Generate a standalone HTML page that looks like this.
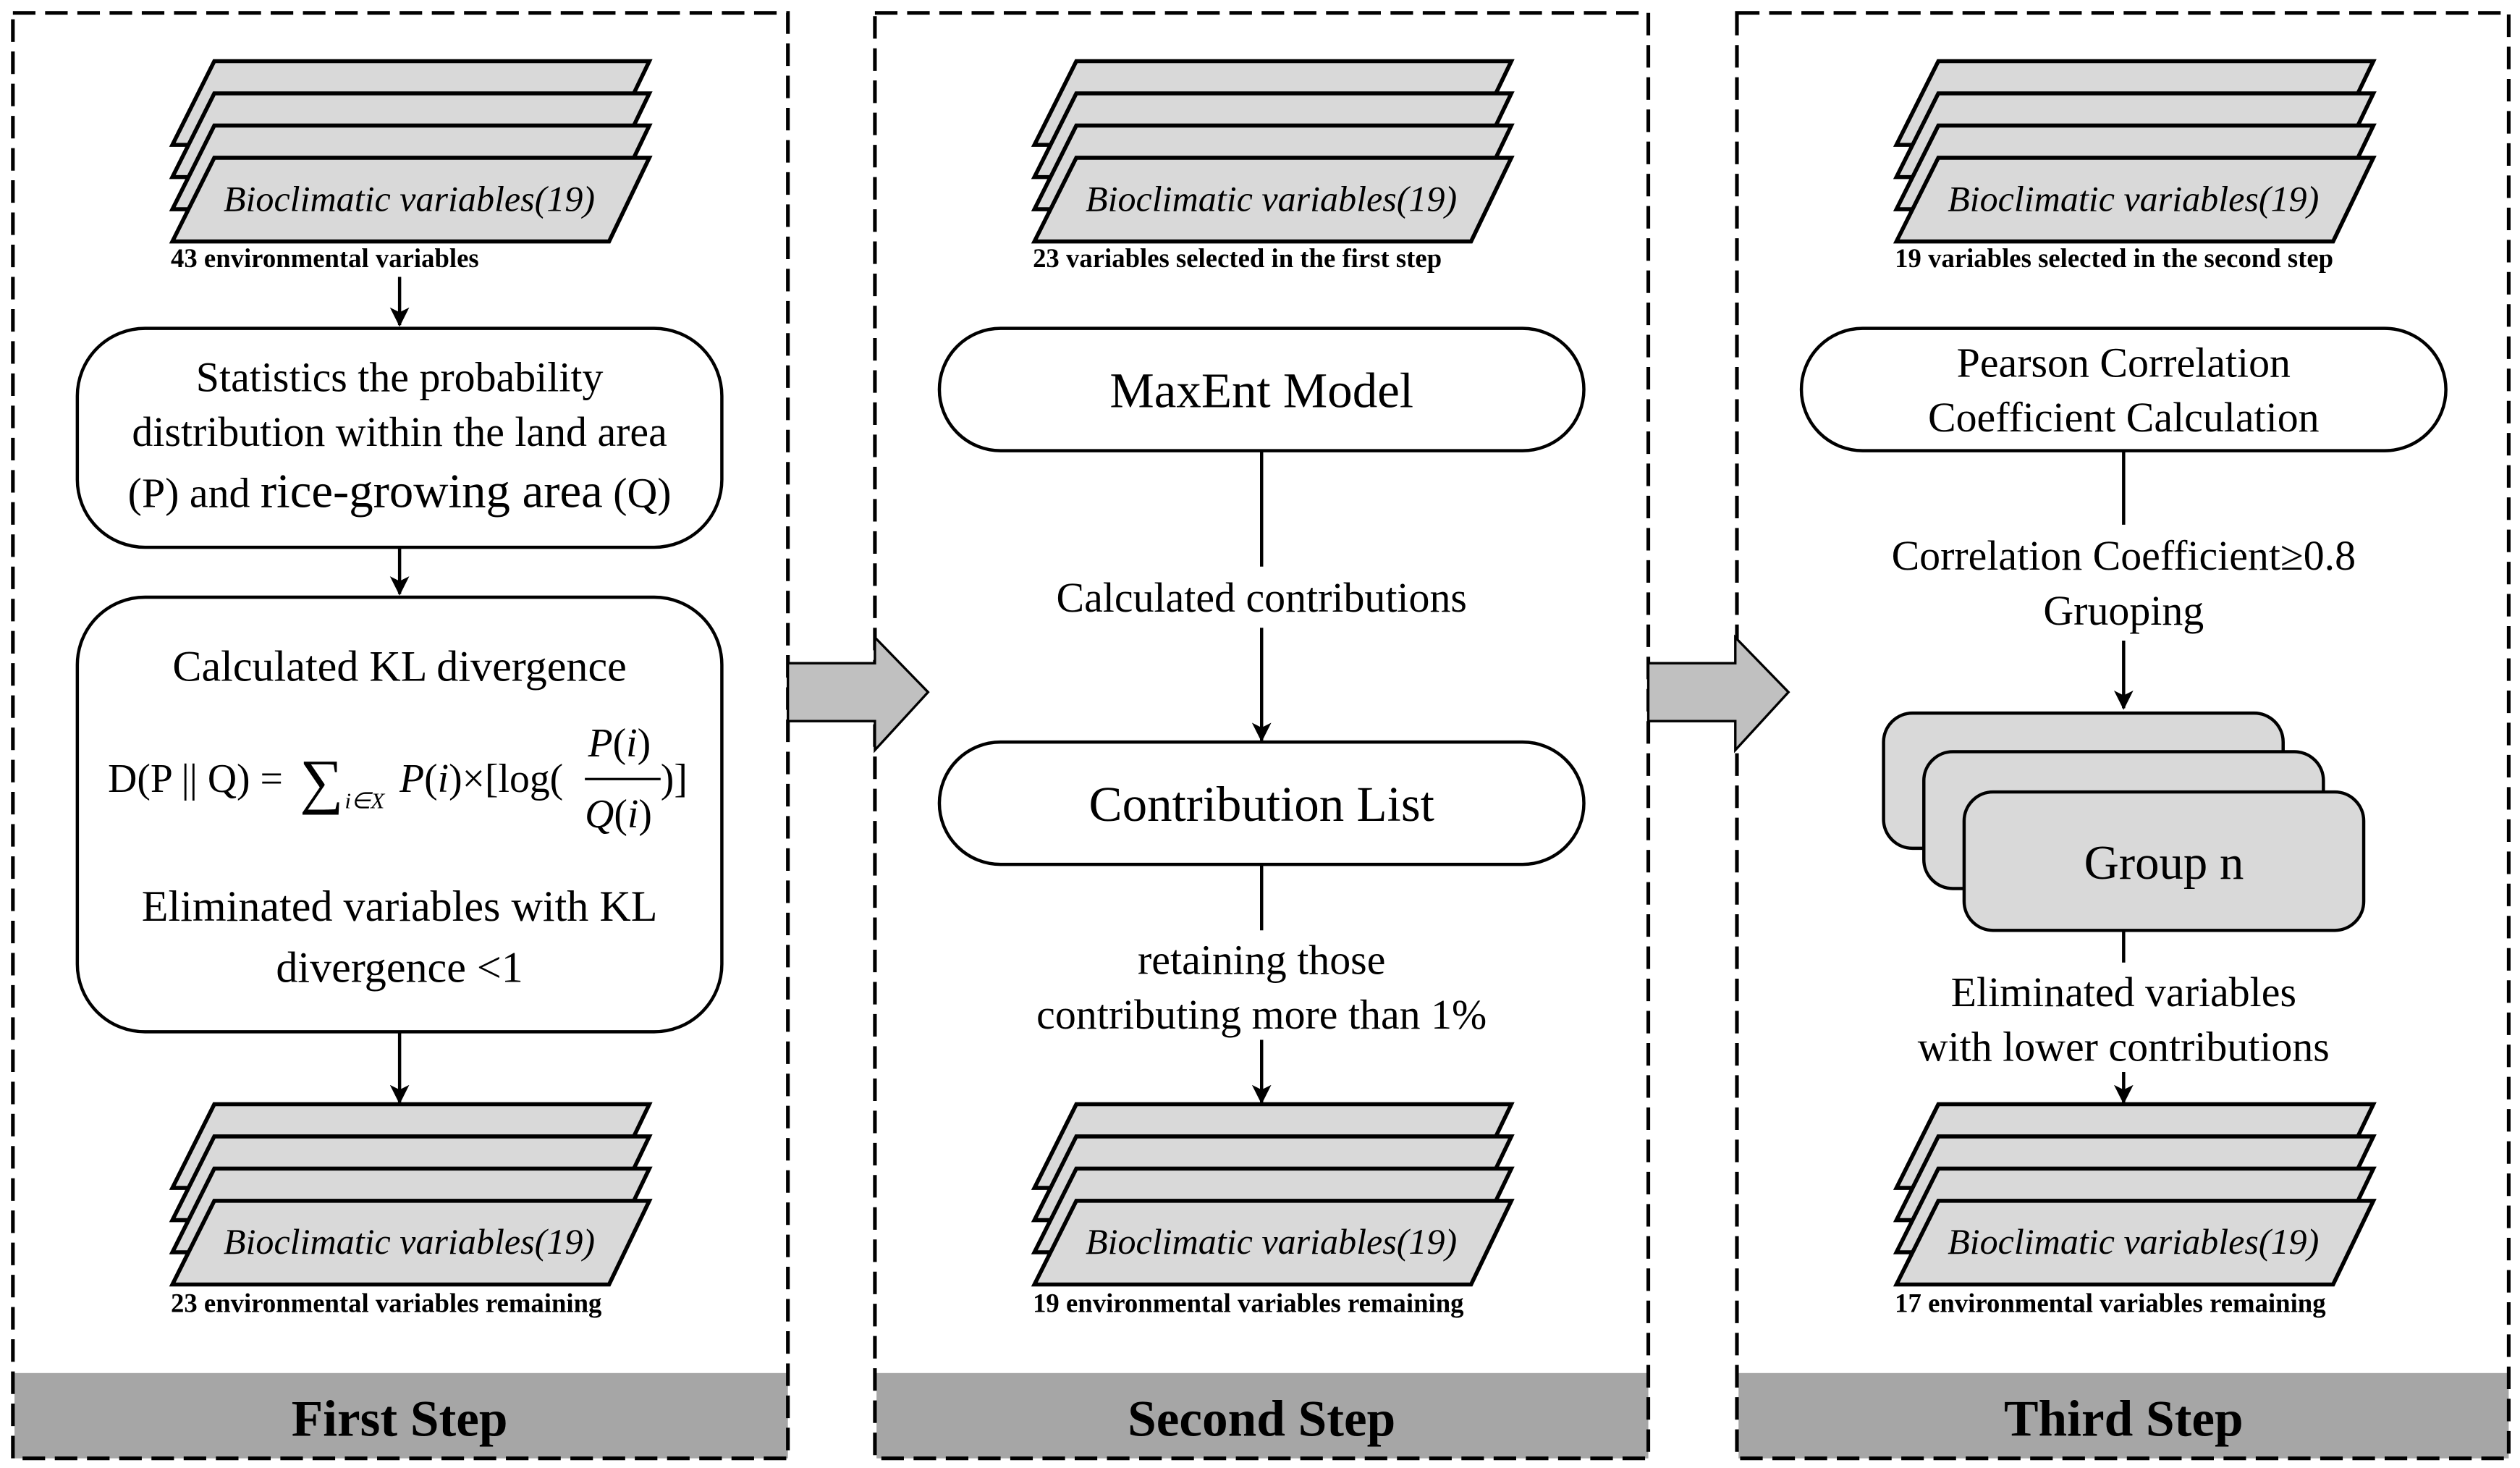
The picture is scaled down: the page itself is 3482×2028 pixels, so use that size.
<!DOCTYPE html>
<html><head><meta charset="utf-8"><style>
html,body{margin:0;padding:0;background:#fff;}
svg{display:block;}
text{font-family:"Liberation Serif",serif;fill:#000;}
</style></head><body>
<svg width="3482" height="2028" viewBox="0 0 1564 912" preserveAspectRatio="none" xmlns="http://www.w3.org/2000/svg">
<defs>
<marker id="ah" markerWidth="12" markerHeight="22" refX="11" refY="6" orient="auto" markerUnits="userSpaceOnUse" viewBox="0 0 12 12">
<path d="M0,0 L12,6 L0,12 L3,6 z" fill="#000"/>
</marker>
<g id="stack">
<polygon points="133,38 403,38 378,90 107,90" fill="#d9d9d9" stroke="#000" stroke-width="2.5"/>
<polygon points="133,58 403,58 378,110 107,110" fill="#d9d9d9" stroke="#000" stroke-width="2.5"/>
<polygon points="133,78 403,78 378,130 107,130" fill="#d9d9d9" stroke="#000" stroke-width="2.5"/>
<polygon points="133,98 403,98 378,150 107,150" fill="#d9d9d9" stroke="#000" stroke-width="2.5"/>
<text x="254" y="131" font-size="22.5" font-style="italic" text-anchor="middle">Bioclimatic variables(19)</text>
</g>
</defs>

<g>
<rect x="9" y="853" width="480" height="53" fill="#a6a6a6"/>
<rect x="544" y="853" width="479" height="53" fill="#a6a6a6"/>
<rect x="1079" y="853" width="478" height="53" fill="#a6a6a6"/>
<rect x="8" y="8" width="481" height="898" fill="none" stroke="#000" stroke-width="2.3" stroke-dasharray="14,6"/>
<rect x="543" y="8" width="480" height="898" fill="none" stroke="#000" stroke-width="2.3" stroke-dasharray="14,6"/>
<rect x="1078" y="8" width="479" height="898" fill="none" stroke="#000" stroke-width="2.3" stroke-dasharray="14,6"/>
<text x="248" y="892" font-size="32" font-weight="bold" text-anchor="middle">First Step</text>
<text x="783" y="892" font-size="32" font-weight="bold" text-anchor="middle">Second Step</text>
<text x="1318" y="892" font-size="32" font-weight="bold" text-anchor="middle">Third Step</text>
</g>

<polygon points="489,412 543,412 543,396 576,430 543,466 543,448 489,448" fill="#c0c0c0" stroke="#000" stroke-width="1.5"/>
<polygon points="1023,412 1077,412 1077,396 1110,430 1077,466 1077,448 1023,448" fill="#c0c0c0" stroke="#000" stroke-width="1.5"/>

<!-- Panel 1 -->
<use href="#stack"/>
<text x="106" y="166" font-size="16.5" font-weight="bold">43 environmental variables</text>
<line x1="248" y1="172" x2="248" y2="202" stroke="#000" stroke-width="2" marker-end="url(#ah)"/>
<rect x="48" y="204" width="400" height="136" rx="42" fill="#fff" stroke="#000" stroke-width="2"/>
<text x="248" y="243" font-size="26" text-anchor="middle">Statistics the probability</text>
<text x="248" y="277" font-size="26" text-anchor="middle">distribution within the land area</text>
<text x="248" y="315" font-size="26" text-anchor="middle">(P) and <tspan font-size="30">rice-growing area</tspan> (Q)</text>
<line x1="248" y1="340" x2="248" y2="369" stroke="#000" stroke-width="2" marker-end="url(#ah)"/>
<rect x="48" y="371" width="400" height="270" rx="42" fill="#fff" stroke="#000" stroke-width="2"/>
<text x="248" y="423" font-size="27" text-anchor="middle">Calculated KL divergence</text>
<text x="67" y="492" font-size="25">D(P || Q) =</text>
<text x="186" y="498" font-size="38">∑</text>
<text x="214" y="502" font-size="14" font-style="italic">i∈X</text>
<text x="248" y="492" font-size="25"><tspan font-style="italic">P</tspan>(<tspan font-style="italic">i</tspan>)×[log(</text>
<text x="365" y="470" font-size="25"><tspan font-style="italic">P</tspan>(<tspan font-style="italic">i</tspan>)</text>
<line x1="363" y1="484" x2="410" y2="484" stroke="#000" stroke-width="1.5"/>
<text x="363" y="514" font-size="25"><tspan font-style="italic">Q</tspan>(<tspan font-style="italic">i</tspan>)</text>
<text x="410" y="492" font-size="25">)]</text>
<text x="248" y="572" font-size="27" text-anchor="middle">Eliminated variables with KL</text>
<text x="248" y="610" font-size="27" text-anchor="middle">divergence &lt;1</text>
<line x1="248" y1="641" x2="248" y2="685" stroke="#000" stroke-width="2" marker-end="url(#ah)"/>
<use href="#stack" y="648"/>
<text x="106" y="815" font-size="16.5" font-weight="bold">23 environmental variables remaining</text>

<!-- Panel 2 -->
<use href="#stack" x="535"/>
<text x="641" y="166" font-size="16.5" font-weight="bold">23 variables selected in the first step</text>
<rect x="583" y="204" width="400" height="76" rx="38" fill="#fff" stroke="#000" stroke-width="2"/>
<text x="783" y="253" font-size="31" text-anchor="middle">MaxEnt Model</text>
<line x1="783" y1="280" x2="783" y2="352" stroke="#000" stroke-width="2"/>
<text x="783" y="380" font-size="26" text-anchor="middle">Calculated contributions</text>
<line x1="783" y1="390" x2="783" y2="460" stroke="#000" stroke-width="2" marker-end="url(#ah)"/>
<rect x="583" y="461" width="400" height="76" rx="38" fill="#fff" stroke="#000" stroke-width="2"/>
<text x="783" y="510" font-size="31" text-anchor="middle">Contribution List</text>
<line x1="783" y1="537" x2="783" y2="578" stroke="#000" stroke-width="2"/>
<text x="783" y="605" font-size="26" text-anchor="middle">retaining those</text>
<text x="783" y="639" font-size="26" text-anchor="middle">contributing more than 1%</text>
<line x1="783" y1="646" x2="783" y2="685" stroke="#000" stroke-width="2" marker-end="url(#ah)"/>
<use href="#stack" x="535" y="648"/>
<text x="641" y="815" font-size="16.5" font-weight="bold">19 environmental variables remaining</text>

<!-- Panel 3 -->
<use href="#stack" x="1070"/>
<text x="1176" y="166" font-size="16.5" font-weight="bold">19 variables selected in the second step</text>
<rect x="1118" y="204" width="400" height="76" rx="38" fill="#fff" stroke="#000" stroke-width="2"/>
<text x="1318" y="234" font-size="26" text-anchor="middle">Pearson Correlation</text>
<text x="1318" y="268" font-size="26" text-anchor="middle">Coefficient Calculation</text>
<line x1="1318" y1="280" x2="1318" y2="326" stroke="#000" stroke-width="2"/>
<text x="1318" y="354" font-size="26" text-anchor="middle">Correlation Coefficient≥0.8</text>
<text x="1318" y="388" font-size="26" text-anchor="middle">Gruoping</text>
<line x1="1318" y1="398" x2="1318" y2="440" stroke="#000" stroke-width="2" marker-end="url(#ah)"/>
<rect x="1169" y="443" width="248" height="84" rx="18" fill="#d9d9d9" stroke="#000" stroke-width="2"/>
<rect x="1194" y="467" width="248" height="85" rx="18" fill="#d9d9d9" stroke="#000" stroke-width="2"/>
<rect x="1219" y="492" width="248" height="86" rx="18" fill="#d9d9d9" stroke="#000" stroke-width="2"/>
<text x="1343" y="546" font-size="30" text-anchor="middle">Group n</text>
<line x1="1318" y1="578" x2="1318" y2="598" stroke="#000" stroke-width="2"/>
<text x="1318" y="625" font-size="26" text-anchor="middle">Eliminated variables</text>
<text x="1318" y="659" font-size="26" text-anchor="middle">with lower contributions</text>
<line x1="1318" y1="666" x2="1318" y2="685" stroke="#000" stroke-width="2" marker-end="url(#ah)"/>
<use href="#stack" x="1070" y="648"/>
<text x="1176" y="815" font-size="16.5" font-weight="bold">17 environmental variables remaining</text>
</svg>
</body></html>
